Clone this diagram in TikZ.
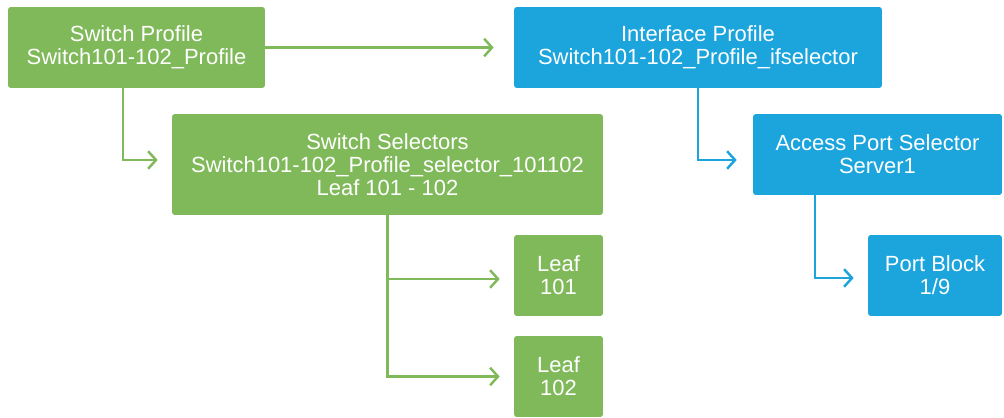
\documentclass[tikz,border=0pt]{standalone}
\usepackage{fontspec}
\setmainfont{Liberation Sans}
\usetikzlibrary{arrows.meta}

\definecolor{leafgreen}{HTML}{80B95A}
\definecolor{accblue}{HTML}{1CA4DD}

\begin{document}
\begin{tikzpicture}[x=0.02cm, y=-0.02cm,
	box/.style={rounded corners=1.6pt, text=white, align=center, inner sep=0pt,
		font=\fontsize{12.5}{13.2}\selectfont, minimum height=1.62cm},
	greenbox/.style={box, fill=leafgreen},
	bluebox/.style={box, fill=accblue},
	link/.style={line width=1.4pt, -{Straight Barb[length=4.5pt, width=10pt, line width=1.4pt]}},
	greenlink/.style={link, draw=leafgreen},
	bluelink/.style={link, draw=accblue}]
		\useasboundingbox (0,0) rectangle (1004,418);

		% Access policy boxes (green)
		\node[greenbox, minimum width=5.14cm] (swprof) at (136.5,47.5) {Switch Profile\\Switch101-102\_Profile};
		\node[greenbox, minimum width=8.62cm, minimum height=2.02cm] (swsel) at (387.5,164.5) {Switch Selectors\\Switch101-102\_Profile\_selector\_101102\\Leaf 101 - 102};
		\node[greenbox, minimum width=1.78cm] (leaf1) at (558.5,275.5) {Leaf\\101};
		\node[greenbox, minimum width=1.78cm] (leaf2) at (558.5,376.5) {Leaf\\102};

		% Interface boxes (blue)
		\node[bluebox, minimum width=7.36cm] (ifprof) at (698,47.5) {Interface Profile\\Switch101-102\_Profile\_ifselector};
		\node[bluebox, minimum width=4.98cm] (apsel) at (877.5,154.5) {Access Port Selector\\Server1};
		\node[bluebox, minimum width=2.68cm] (portblk) at (935,275.5) {Port Block\\1/9};

		% Connectors
		\draw[greenlink, shorten >=0.4cm] (swprof) -- (ifprof);
		\draw[greenlink, shorten >=0.28cm] ([xshift=-0.27cm]swprof.south) |- ([yshift=0.09cm]swsel.west);
		\draw[greenlink, shorten >=0.28cm] (swsel.south) |- ([yshift=-0.07cm]leaf1.west);
		\draw[greenlink, shorten >=0.28cm] (swsel.south) |- (leaf2.west);
		\draw[bluelink, shorten >=0.32cm] (ifprof.south) |- ([yshift=-0.11cm]apsel.west);
		\draw[bluelink, shorten >=0.28cm] ([xshift=-1.25cm]apsel.south) |- ([yshift=-0.05cm]portblk.west);

	\end{tikzpicture}
\end{document}
